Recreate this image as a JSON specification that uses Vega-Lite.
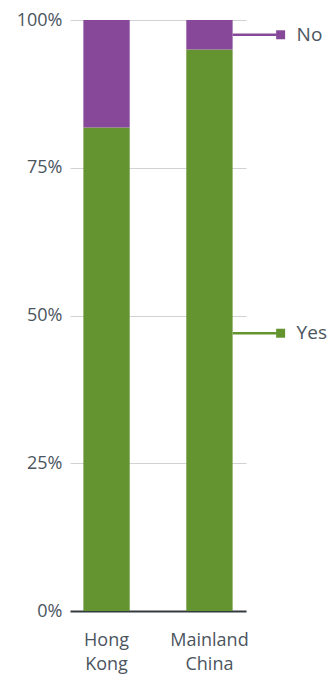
{
  "$schema": "https://vega.github.io/schema/vega-lite/v6.json",
  "width": 176,
  "height": 591,
  "autosize": {"type": "none"},
  "padding": {"left": 70, "top": 20, "right": 82, "bottom": 66},
  "background": "white",
  "config": {
    "view": {"stroke": null},
    "font": "Open Sans",
    "axis": {"labelFont": "Open Sans", "labelFontSize": 18, "labelColor": "#4b5560"}
  },
  "datasets": {
    "bars": [
      {"country": "Hong Kong", "answer": "Yes", "value": 81.8},
      {"country": "Hong Kong", "answer": "No", "value": 18.2},
      {"country": "Mainland China", "answer": "Yes", "value": 95},
      {"country": "Mainland China", "answer": "No", "value": 5}
    ],
    "labels": [
      {"country": "Mainland China", "answer": "No", "pos": 97.5},
      {"country": "Mainland China", "answer": "Yes", "pos": 47}
    ]
  },
  "layer": [
    {
      "data": {"name": "bars"},
      "mark": {"type": "bar"},
      "encoding": {
        "x": {
          "field": "country", "type": "nominal",
          "scale": {"domain": ["Hong Kong", "Mainland China"], "paddingInner": 0.55, "paddingOuter": 0.13},
          "axis": {
            "title": null, "labelAngle": 0, "ticks": false, "domain": true,
            "domainColor": "#333a40", "domainWidth": 2, "labelPadding": 20,
            "labelExpr": "split(datum.label, ' ')", "labelLineHeight": 24,
            "labelBaseline": "top"
          }
        },
        "y": {
          "field": "value", "type": "quantitative", "stack": "zero",
          "scale": {"domain": [0, 100], "nice": false},
          "axis": {
            "title": null, "values": [0, 25, 50, 75, 100],
            "labelExpr": "datum.value + '%'", "ticks": false, "domain": false,
            "gridColor": "#cfd3d6", "gridWidth": 1, "labelPadding": 8
          }
        },
        "color": {
          "field": "answer", "type": "nominal",
          "scale": {"domain": ["No", "Yes"], "range": ["#874899", "#639430"]},
          "legend": null
        },
        "order": {"field": "answer", "sort": "descending"}
      }
    },
    {
      "data": {"name": "labels"},
      "mark": {"type": "rule", "x2Offset": 44, "strokeWidth": 2.5},
      "encoding": {
        "x": {"field": "country", "type": "nominal", "bandPosition": 1},
        "x2": {"field": "country", "bandPosition": 1},
        "y": {"field": "pos", "type": "quantitative"},
        "color": {"field": "answer", "type": "nominal", "legend": null}
      }
    },
    {
      "data": {"name": "labels"},
      "mark": {"type": "point", "shape": "square", "filled": true, "opacity": 1, "size": 81, "xOffset": 48},
      "encoding": {
        "x": {"field": "country", "type": "nominal", "bandPosition": 1},
        "y": {"field": "pos", "type": "quantitative"},
        "color": {"field": "answer", "type": "nominal", "legend": null}
      }
    },
    {
      "data": {"name": "labels"},
      "mark": {"type": "text", "align": "left", "baseline": "middle", "xOffset": 64, "fontSize": 19, "color": "#4b5560", "font": "Open Sans"},
      "encoding": {
        "x": {"field": "country", "type": "nominal", "bandPosition": 1},
        "y": {"field": "pos", "type": "quantitative"},
        "text": {"field": "answer"}
      }
    }
  ]
}
